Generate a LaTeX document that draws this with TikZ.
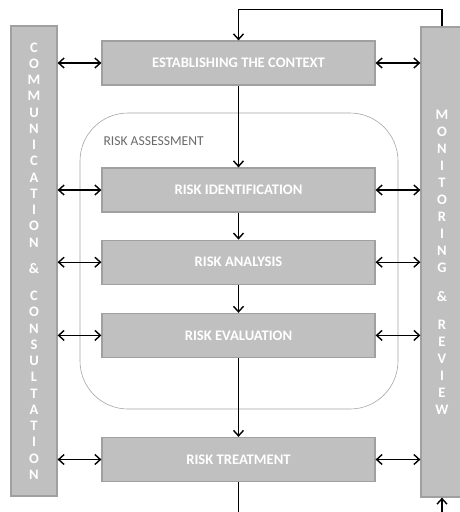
\documentclass[tikz,border=0pt]{standalone}
\usepackage{fontspec}
\setmainfont{Carlito}
\usepackage{xcolor}
\definecolor{boxgrey}{RGB}{192,192,192}
\definecolor{edgegrey}{RGB}{160,160,160}
\definecolor{framegrey}{RGB}{165,165,165}
\definecolor{labelgrey}{RGB}{105,105,105}
\usetikzlibrary{arrows.meta,positioning}
\tikzset{
  %% boxes of the main column
  procbox/.style={draw=edgegrey, fill=boxgrey, line width=1.2pt,
    minimum width=273pt, minimum height=44pt, inner sep=0pt,
    font=\fontsize{14.6}{16}\selectfont\bfseries, text=white},
  %% the two side bars
  sidebar/.style={draw=edgegrey, fill=boxgrey, line width=1.2pt,
    inner sep=0pt, minimum height=470pt, align=center, text=white},
  flow/.style={-{Straight Barb[length=5.5pt,width=10pt]}, line width=1.4pt},
  link/.style={{Straight Barb[length=5.5pt,width=10pt]}-{Straight Barb[length=5.5pt,width=10pt]},
    line width=1.4pt},
}

\begin{document}
\begin{tikzpicture}[x=1pt, y=-1pt]
\useasboundingbox (0,0) rectangle (459,512);

% risk assessment frame
\node[draw=framegrey, line width=0.6pt, rounded corners=48pt,
      minimum width=318pt, minimum height=296pt] (assess) at (239,261) {};
\node[anchor=west, text=labelgrey, font=\fontsize{13.6}{15}\selectfont]
      (assess-label) at (100,141) {RISK ASSESSMENT};

% side bars
\node[sidebar, minimum width=46pt, font=\fontsize{14.5}{16.25}\selectfont\bfseries]
  (comm) at (34,261)
  {C\\O\\M\\M\\U\\N\\I\\C\\A\\T\\I\\O\\N\\[10pt]\&\\[11pt]C\\O\\N\\S\\U\\L\\T\\A\\T\\I\\O\\N};
\node[sidebar, minimum width=42pt, font=\fontsize{14.5}{17}\selectfont\bfseries]
  (monit) at (442,262)
  {M\\O\\N\\I\\T\\O\\R\\I\\N\\G\\[12pt]\&\\[11pt]R\\E\\V\\I\\E\\W};

% main column
\node[procbox] (context) at (238.5,63) {ESTABLISHING THE CONTEXT};
\node[procbox] (identify) at (238.5,190) {RISK IDENTIFICATION};
\node[procbox, below=27pt of identify] (analyse) {RISK ANALYSIS};
\node[procbox, below=28pt of analyse] (evaluate) {RISK EVALUATION};
\node[procbox] (treat) at (238.5,459.5) {RISK TREATMENT};

\coordinate (treat-out) at (238.5,515);
\coordinate (monit-in) at (442,515);

% flow down the column
\draw[flow] (context) -- (identify);
\draw[flow] (identify) -- (analyse);
\draw[flow] (analyse) -- (evaluate);
\draw[flow] (evaluate) -- (treat);
\draw[line width=1.4pt] (treat) -- (treat-out);
\draw[flow] (monit-in) -- (monit.south);
\draw[flow] (monit.north) -- ++(0,-17) -| (context.north);

% links to the side bars
\foreach \n in {context,identify,analyse,evaluate,treat}{
  \draw[link] (comm.east |- \n.west) -- (\n.west);
  \draw[link] (\n.east) -- (monit.west |- \n.east);
}
\end{tikzpicture}
\end{document}
